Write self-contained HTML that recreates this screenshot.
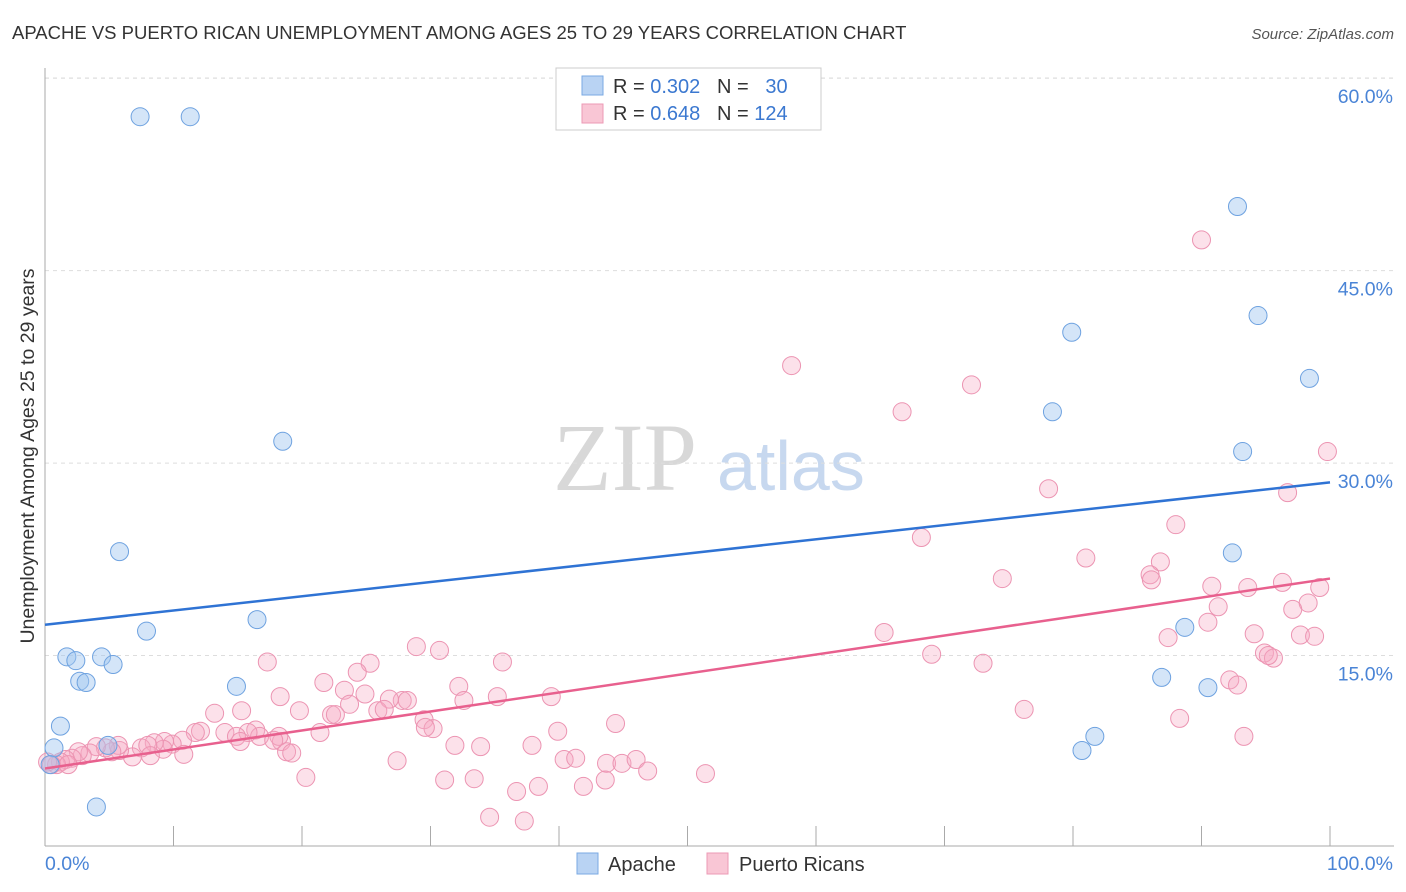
<!DOCTYPE html>
<html><head><meta charset="utf-8"><style>
body{margin:0;background:#fff;font-family:"Liberation Sans",sans-serif}
svg{display:block}
text{white-space:pre}
</style></head><body>
<svg id="c" width="1406" height="892">
<text x="12" y="39" font-size="18.5" fill="#333">APACHE VS PUERTO RICAN UNEMPLOYMENT AMONG AGES 25 TO 29 YEARS CORRELATION CHART</text>
<text x="1394" y="39" font-size="15" fill="#555" font-style="italic" text-anchor="end">Source: ZipAtlas.com</text>
<text transform="translate(34,456) rotate(-90)" font-size="19.5" fill="#333" text-anchor="middle">Unemployment Among Ages 25 to 29 years</text>
<g>
<text x="553" y="490" font-size="96" font-family="Liberation Serif,serif" fill="#d8d8d8">ZIP</text>
<text x="717" y="490" font-size="70" fill="#c7d8ef">atlas</text>
</g>
<g id="grid"></g><g id="marks"></g>
<g>
<rect x="556" y="68" width="265" height="62" fill="#fff" stroke="#ccc"/>
<rect x="582" y="76" width="21" height="19" fill="#b9d3f3" stroke="#7aa9e3"/>
<rect x="582" y="104" width="21" height="19" fill="#f9c6d5" stroke="#ec9ab5"/>
<text x="613" y="93" font-size="20" fill="#333">R = <tspan fill="#3b78d0">0.302</tspan>   N =  <tspan fill="#3b78d0"> 30</tspan></text>
<text x="613" y="120" font-size="20" fill="#333">R = <tspan fill="#3b78d0">0.648</tspan>   N = <tspan fill="#3b78d0">124</tspan></text>
</g>
<g>
<rect x="577" y="853" width="21" height="21" fill="#b9d3f3" stroke="#7aa9e3"/>
<text x="608" y="871" font-size="20" fill="#333">Apache</text>
<rect x="707" y="853" width="21" height="21" fill="#f9c6d5" stroke="#ec9ab5"/>
<text x="739" y="871" font-size="20" fill="#333">Puerto Ricans</text>
</g>
</svg>
<script>
const yTicks=[15,30,45,60];
const yTickLabels=["15.0%","30.0%","45.0%","60.0%"];
const xTickLabels=["0.0%","100.0%"];
const apacheX=[7.4,11.3,92.8,94.4,79.9,98.4,78.4,18.5,93.2,5.8,92.4,7.9,16.5,88.7,1.7,4.4,2.4,5.3,2.7,3.2,14.9,86.9,90.5,1.2,81.7,4.9,0.7,80.7,4.0,0.4];
const apacheY=[57.0,57.0,50.0,41.5,40.2,36.6,34.0,31.7,30.9,23.1,23.0,16.9,17.8,17.2,14.9,14.9,14.6,14.3,13.0,12.9,12.6,13.3,12.5,9.5,8.7,8.0,7.8,7.6,3.2,6.5];
const prX=[58.1,66.7,72.1,90.0,99.8,78.1,96.7,88.0,68.2,81.0,86.8,74.5,86.0,86.1,90.8,93.6,96.3,99.2,98.3,91.3,97.1,90.5,87.4,94.1,97.7,98.8,65.3,69.0,73.0,94.9,95.6,95.2,92.2,92.8,76.2,88.3,93.3,17.3,28.9,30.7,35.6,25.3,24.3,21.7,18.3,23.3,24.9,32.2,35.2,39.4,27.8,28.2,26.8,32.6,13.2,19.8,23.7,25.9,26.4,22.3,22.6,15.3,44.4,39.9,29.5,30.2,29.6,21.4,14.0,18.4,18.2,16.4,16.7,15.8,14.9,12.1,11.7,10.7,9.9,9.3,9.2,8.5,7.5,6.8,8.0,8.2,5.8,5.7,5.2,4.7,4.0,3.5,2.9,2.6,2.1,1.6,1.2,0.9,0.5,0.2,31.9,33.9,37.9,18.8,19.2,27.4,40.4,41.3,43.7,44.9,46.0,46.9,51.4,20.3,31.1,33.4,43.6,41.9,38.4,36.7,34.6,37.3,1.8,10.8,15.2,17.8];
const prY=[37.6,34.0,36.1,47.4,30.9,28.0,27.7,25.2,24.2,22.6,22.3,21.0,21.3,20.9,20.4,20.3,20.7,20.3,19.1,18.8,18.6,17.6,16.4,16.7,16.6,16.5,16.8,15.1,14.4,15.2,14.8,15.0,13.1,12.7,10.8,10.1,8.7,14.5,15.7,15.4,14.5,14.4,13.7,12.9,11.8,12.3,12.0,12.6,11.8,11.8,11.5,11.5,11.6,11.5,10.5,10.7,11.2,10.7,10.8,10.4,10.4,10.7,9.7,9.1,10.0,9.3,9.4,9.0,9.0,8.3,8.7,9.2,8.7,9.0,8.7,9.1,9.0,8.4,8.1,8.3,7.7,8.2,7.8,7.1,8.0,7.2,7.6,8.0,7.5,7.8,7.9,7.4,7.2,7.5,7.0,6.9,6.7,6.5,6.5,6.7,8.0,7.9,8.0,7.5,7.4,6.8,6.9,7.0,6.6,6.6,6.9,6.0,5.8,5.5,5.3,5.4,5.3,4.8,4.8,4.4,2.4,2.1,6.5,7.3,8.3,8.4];
const apacheTrend=[17.4,28.5];
const prTrend=[6.2,21.0];
const NS="http://www.w3.org/2000/svg";
const X0=45,X1=1330,Y0=848,PX=12.83;
function sx(v){return X0+(X1-X0)*v/100;}
function sy(v){return Y0-v*PX;}
function mk(t,a,p){const e=document.createElementNS(NS,t);for(const k in a)e.setAttribute(k,a[k]);p.appendChild(e);return e;}
const g=document.getElementById('grid'),m=document.getElementById('marks');
yTicks.forEach((t,i)=>{
 const l=mk('line',{x1:45,x2:1394,y1:sy(t),y2:sy(t),stroke:'#ddd','stroke-dasharray':'4,4'},g);
 
 
 const tx=mk('text',{x:1393,y:sy(t)+25,'font-size':19.5,fill:'#4a84d6','text-anchor':'end'},g);
 tx.textContent=yTickLabels[i];
 
 
});
const tg=mk('line',{x1:45,x2:1394,y1:78,y2:78,stroke:'#ddd','stroke-dasharray':'4,4'},g);


const ya=mk('line',{x1:45,x2:45,y1:68,y2:846,stroke:'#aaa'},g);


const xa=mk('line',{x1:45,x2:1394,y1:846,y2:846,stroke:'#aaa'},g);


for(let i=1;i<=10;i++){
 const t=mk('line',{x1:sx(i*10),x2:sx(i*10),y1:826,y2:846,stroke:'#aaa'},g);
 
 
}
[[0,'start',45],[100,'end',1393]].forEach((d,i)=>{
 const t=mk('text',{x:d[2],y:870,'font-size':19.5,fill:'#4a84d6','text-anchor':d[1]},g);
 t.textContent=xTickLabels[i];
 
 
});
prX.forEach((v,i)=>{
 const c=mk('circle',{cx:sx(v),cy:sy(prY[i]),r:9,fill:'rgba(246,170,196,0.35)',stroke:'#ec94b2','stroke-width':1},m);
 
 
});
apacheX.forEach((v,i)=>{
 const c=mk('circle',{cx:sx(v),cy:sy(apacheY[i]),r:9,fill:'rgba(160,198,240,0.45)',stroke:'#6ea2e0','stroke-width':1},m);
 
 
});
const bl=mk('line',{x1:sx(0),x2:sx(100),y1:sy(apacheTrend[0]),y2:sy(apacheTrend[1]),stroke:'#2f73d4','stroke-width':2.5},m);


const pl=mk('line',{x1:sx(0),x2:sx(100),y1:sy(prTrend[0]),y2:sy(prTrend[1]),stroke:'#e8608e','stroke-width':2.5},m);


</script>
</body></html>
